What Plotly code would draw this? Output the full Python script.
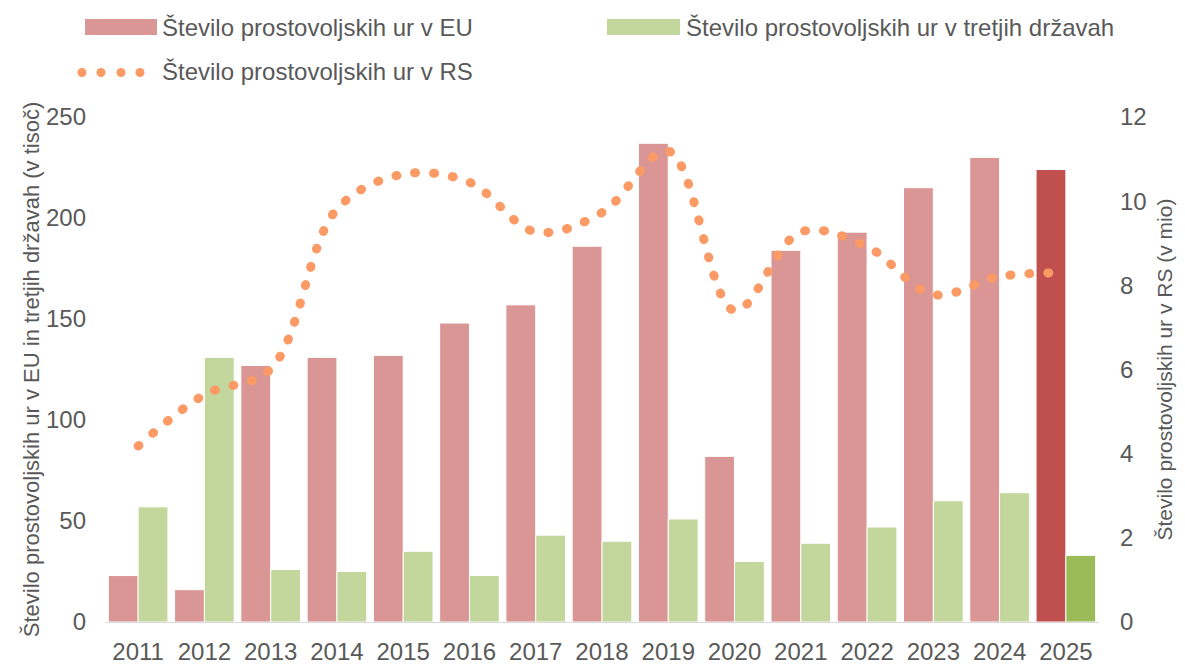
import plotly.graph_objects as go

years = ["2011", "2012", "2013", "2014", "2015", "2016", "2017", "2018",
         "2019", "2020", "2021", "2022", "2023", "2024", "2025"]
eu_hours = [23, 16, 127, 131, 132, 148, 157, 186, 237, 82, 184, 193, 215, 230, 224]
third_hours = [57, 131, 26, 25, 35, 23, 43, 40, 51, 30, 39, 47, 60, 64, 33]
rs_hours = [4.18, 5.40, 6.01, 9.81, 10.64, 10.45, 9.27, 9.73, 11.19, 7.40, 9.27, 8.92, 7.78, 8.21, 8.30]

name_eu = "Število prostovoljskih ur v EU"
name_third = "Število prostovoljskih ur v tretjih državah"
name_rs = "Število prostovoljskih ur v RS"
title_left = "Število prostovoljskih ur v EU in tretjih državah (v tisoč)"
title_right = "Število prostovoljskih ur v RS (v mio)"

C_EU, C_EU_LAST = "#D99694", "#C0504D"
C_TH, C_TH_LAST = "#C3D69B", "#9BBB59"
C_RS = "#FB9A64"
TXT = "#595959"
FONT = "Liberation Sans, Arial, sans-serif"

W, H = 1185, 664
PL, PR, PT, PB = 105, 1099, 117, 622

def px(x):
    return (x - PL) / (PR - PL)

def py(y):
    return (PB - y) / (PB - PT)

eu_colors = [C_EU] * (len(years) - 1) + [C_EU_LAST]
th_colors = [C_TH] * (len(years) - 1) + [C_TH_LAST]

fig = go.Figure()
fig.add_trace(go.Bar(x=years, y=eu_hours, name=name_eu,
                     marker=dict(color=eu_colors, line=dict(color="white", width=1)),
                     showlegend=False))
fig.add_trace(go.Bar(x=years, y=third_hours, name=name_third,
                     marker=dict(color=th_colors, line=dict(color="white", width=1)),
                     showlegend=False))
fig.add_trace(go.Scatter(x=years, y=rs_hours, name=name_rs, yaxis="y2", mode="lines",
                         line=dict(color=C_RS, width=9, shape="spline", dash="1px,18px"),
                         showlegend=False))

shapes = [
    dict(type="rect", xref="paper", yref="paper", x0=px(85), x1=px(157), y0=py(35), y1=py(19),
         fillcolor=C_EU, line=dict(width=0)),
    dict(type="rect", xref="paper", yref="paper", x0=px(607), x1=px(680), y0=py(35), y1=py(19),
         fillcolor=C_TH, line=dict(width=0)),
]
for cx in [82, 101, 121, 140]:
    shapes.append(dict(type="circle", xref="paper", yref="paper",
                       x0=px(cx - 4.5), x1=px(cx + 4.5), y0=py(77), y1=py(68),
                       fillcolor=C_RS, line=dict(width=0)))

LEG = dict(size=24, color=TXT, family=FONT)
annotations = [
    dict(text=name_eu, xref="paper", yref="paper", x=px(160), y=py(27),
         xanchor="left", yanchor="middle", showarrow=False, font=LEG),
    dict(text=name_third, xref="paper", yref="paper", x=px(684), y=py(27),
         xanchor="left", yanchor="middle", showarrow=False, font=LEG),
    dict(text=name_rs, xref="paper", yref="paper", x=px(160), y=py(72),
         xanchor="left", yanchor="middle", showarrow=False, font=LEG),
]

fig.update_layout(
    width=W, height=H,
    margin=dict(l=PL, r=W - PR, t=PT, b=H - PB, autoexpand=False),
    paper_bgcolor="white", plot_bgcolor="white",
    barmode="group", bargap=0.1, bargroupgap=0,
    font=dict(family=FONT, color=TXT, size=24),
    shapes=shapes, annotations=annotations,
    xaxis=dict(type="category", showgrid=False, showline=True, linecolor="#D9D9D9", linewidth=1,
               ticks="", tickfont=dict(size=24, color=TXT), ticklabelstandoff=8),
    yaxis=dict(range=[0, 250], dtick=50, showgrid=False, zeroline=False, showline=False,
               ticks="", tickfont=dict(size=24, color=TXT), ticklabelstandoff=18,
               title=dict(text=title_left, font=dict(size=22, color=TXT), standoff=0)),
    yaxis2=dict(range=[0, 12], dtick=2, overlaying="y", side="right", showgrid=False,
                zeroline=False, showline=False, ticks="", tickfont=dict(size=24, color=TXT),
                ticklabelstandoff=20,
                title=dict(text=title_right, font=dict(size=21, color=TXT), standoff=11)),
)

post = """
document.documentElement.style.margin = '0';
document.documentElement.style.overflow = 'hidden';
document.body.style.margin = '0';
document.body.style.padding = '0';
document.body.style.overflow = 'hidden';
var gd = document.getElementById('{plot_id}');
function roundDots(){
  gd.querySelectorAll('.scatterlayer .js-line').forEach(function(p){
    p.style.strokeLinecap = 'round';
  });
}
roundDots();
gd.on('plotly_afterplot', roundDots);
"""
fig.write_html("out.html", post_script=post,
               config={"displayModeBar": False, "staticPlot": True})
